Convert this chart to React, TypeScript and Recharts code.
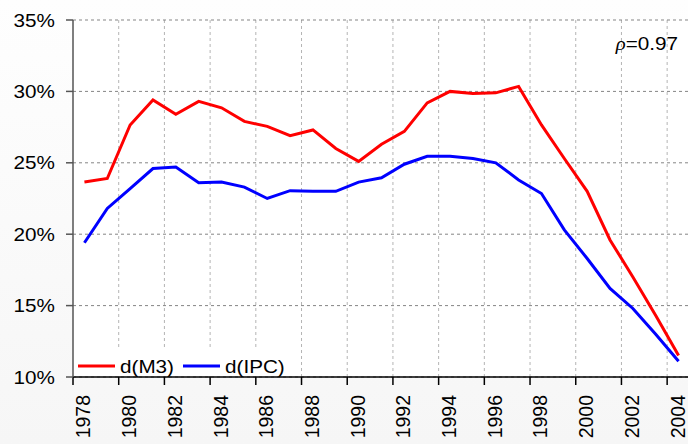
import React from 'react';
import {
  LineChart,
  Line,
  XAxis,
  YAxis,
  CartesianGrid,
  Customized,
} from 'recharts';

const years = [
  1978, 1979, 1980, 1981, 1982, 1983, 1984, 1985, 1986, 1987, 1988, 1989, 1990, 1991,
  1992, 1993, 1994, 1995, 1996, 1997, 1998, 1999, 2000, 2001, 2002, 2003, 2004,
];

// d(M3), %
const m3 = [
  23.65, 23.9, 27.65, 29.4, 28.4, 29.3, 28.85, 27.9, 27.55, 26.9, 27.3, 26.0, 25.1, 26.3,
  27.2, 29.2, 30.0, 29.85, 29.9, 30.35, 27.65, 25.3, 23.0, 19.6, 17.0, 14.3, 11.5,
];

// d(IPC), %
const ipc = [
  19.4, 21.8, 23.2, 24.6, 24.7, 23.6, 23.65, 23.3, 22.5, 23.05, 23.0, 23.0, 23.65, 23.95,
  24.9, 25.45, 25.45, 25.3, 25.0, 23.8, 22.85, 20.3, 18.3, 16.2, 14.8, 13.0, 11.1,
];

const yTicks = [10, 15, 20, 25, 30, 35];
const xLabelYears = [1978, 1980, 1982, 1984, 1986, 1988, 1990, 1992, 1994, 1996, 1998, 2000, 2002, 2004];

const data = years.map((year, i) => ({ year, m3: m3[i], ipc: ipc[i] }));

const FONT = 'Liberation Sans, Arial, sans-serif';
const HALF_YEAR = 11.43;

function XTick(props: any) {
  const { x, y, payload } = props;
  const cx = x + HALF_YEAR + 6;
  return (
    <text
      transform={`translate(${cx},${y + 8}) scale(1.08,1) rotate(-90)`}
      textAnchor="end"
      fontSize={19.5}
      fontFamily={FONT}
      fill="#000"
    >
      {payload.value + 0.5}
    </text>
  );
}

function YTick(props: any) {
  const { x, y, payload } = props;
  return (
    <text
      transform={`translate(${x - 9},${y + 6.5}) scale(1.15,1)`}
      textAnchor="end"
      fontSize={18}
      fontFamily={FONT}
      fill="#000"
    >
      {payload.value}%
    </text>
  );
}

function Extras() {
  return (
    <g>
      <text
        transform="translate(678,50) scale(1.15,1)"
        textAnchor="end"
        fontSize={18}
        fontFamily={FONT}
        fill="#000"
      >
        <tspan fontStyle="italic" fontFamily="Liberation Serif, serif">ρ</tspan>=0.97
      </text>
      <rect x={74} y={347} width={216} height={29} fill="#fff" />
      <line x1={78} y1={366} x2={115} y2={366} stroke="#ff0000" strokeWidth={3} />
      <text transform="translate(120,373) scale(1.15,1)" fontSize={18} fontFamily={FONT} fill="#000">
        d(M3)
      </text>
      <line x1={183} y1={366} x2={220} y2={366} stroke="#0000ff" strokeWidth={3} />
      <text transform="translate(225,373) scale(1.15,1)" fontSize={18} fontFamily={FONT} fill="#000">
        d(IPC)
      </text>
    </g>
  );
}

export default function App() {
  return (
    <div
      style={{
        position: 'absolute',
        left: 0,
        top: 0,
        width: 688,
        height: 444,
        overflow: 'hidden',
        background: 'linear-gradient(#fefefe, #f6f6f6)',
      }}
    >
      <LineChart
        width={692}
        height={444}
        data={data}
        margin={{ top: 20, right: 2, bottom: 0, left: 0 }}
      >
        <CartesianGrid
          horizontal={false}
          stroke="#b4b4b4"
          strokeDasharray="3 3"
          fill="#fff"
          verticalValues={xLabelYears.slice(1).map((y) => y - 0.5)}
        />
        <CartesianGrid vertical={false} stroke="#858585" strokeDasharray="3 3" />
        <XAxis
          type="number"
          dataKey="year"
          domain={[1977.5, 2004.5]}
          ticks={xLabelYears.map((y) => y - 0.5)}
          interval={0}
          tick={<XTick />}
          tickSize={8}
          height={67}
          axisLine={{ stroke: '#000', strokeWidth: 1.5 }}
          tickLine={{ stroke: '#000', strokeWidth: 1.5 }}
          allowDataOverflow
        />
        <YAxis
          type="number"
          domain={[10, 35]}
          ticks={yTicks}
          interval={0}
          tick={<YTick />}
          tickSize={7}
          width={73}
          axisLine={{ stroke: '#555', strokeWidth: 1.5 }}
          tickLine={{ stroke: '#555', strokeWidth: 1.5 }}
        />
        <Line
          type="linear"
          dataKey="m3"
          stroke="#ff0000"
          strokeWidth={3}
          dot={false}
          isAnimationActive={false}
        />
        <Line
          type="linear"
          dataKey="ipc"
          stroke="#0000ff"
          strokeWidth={3}
          dot={false}
          isAnimationActive={false}
        />
        <Customized component={<Extras />} />
      </LineChart>
    </div>
  );
}
